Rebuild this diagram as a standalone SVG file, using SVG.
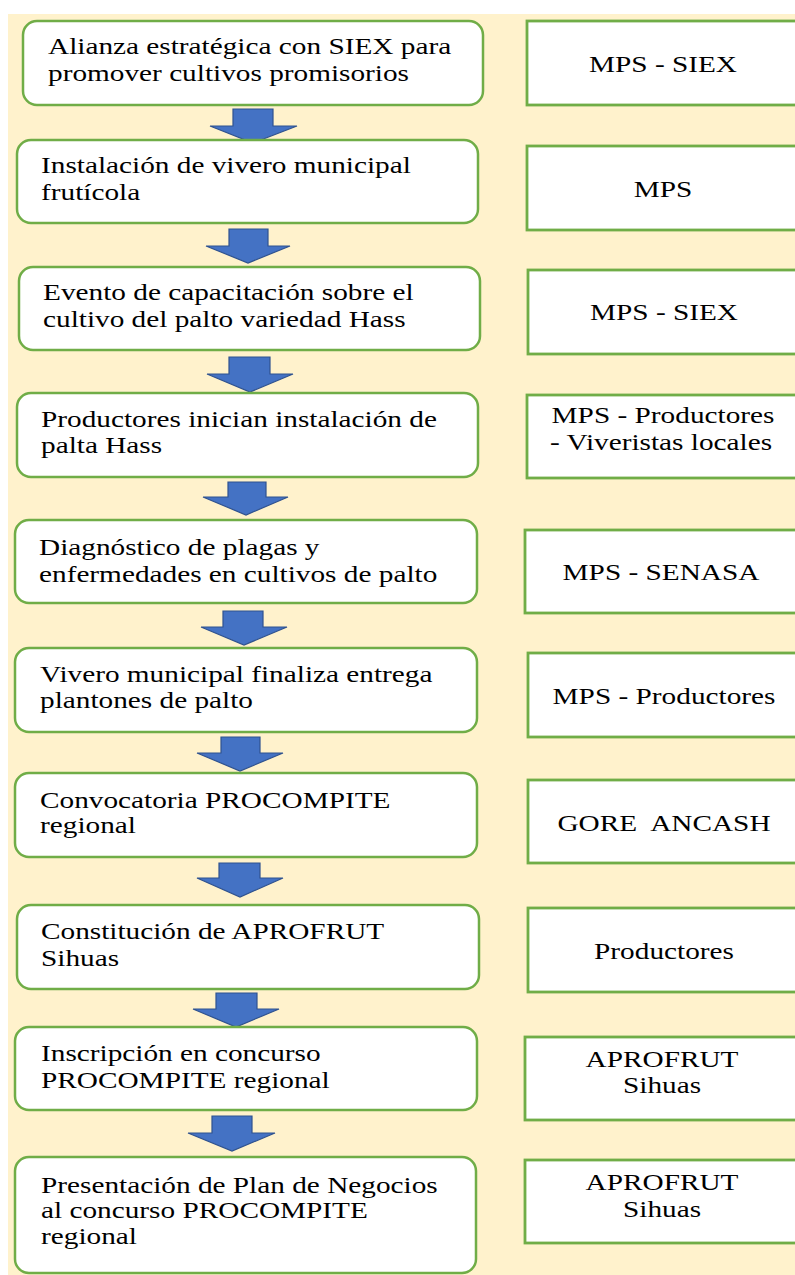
<svg xmlns="http://www.w3.org/2000/svg" width="795" height="1275" viewBox="0 0 795 1275">
<defs>
<style>
.bg{fill:#FFF2CC;}
.step{fill:#FFFFFF;stroke:#70AD47;stroke-width:2.5;}
.actor{fill:#FFFFFF;stroke:#70AD47;stroke-width:2.8;}
.arrow{fill:#4472C4;stroke:#2F528F;stroke-width:1.2;stroke-linejoin:miter;}
.t{font-family:"Liberation Serif","Times New Roman",serif;font-size:24px;fill:#000000;}
.c{text-anchor:middle;}
</style>
</defs>
<rect class="bg" x="8" y="14" width="787" height="1261"/>

<g id="connectors">
<polygon class="arrow" points="233,109 273,109 273,126 297,126 253,143 210,126 233,126"/>
<polygon class="arrow" points="229,229 268,229 268,246 290,246 248,263 206,246 229,246"/>
<polygon class="arrow" points="229,357 270,357 270,374 293,374 250,392 207,374 229,374"/>
<polygon class="arrow" points="228,482 266,482 266,497 288,497 246,515 203,497 228,497"/>
<polygon class="arrow" points="223,611 263,611 263,627 287,627 244,645 201,627 223,627"/>
<polygon class="arrow" points="221,737 260,737 260,753 283,753 240,771 197,753 221,753"/>
<polygon class="arrow" points="219,863 260,863 260,878 283,878 240,897 197,878 219,878"/>
<polygon class="arrow" points="216,993 257,993 257,1009 279,1009 236,1027 193,1009 216,1009"/>
<polygon class="arrow" points="212,1116 252,1116 252,1133 275,1133 232,1151 188,1133 212,1133"/>
</g>

<g id="step1">
<rect class="step" x="23" y="21" width="460" height="84" rx="14"/>
<text class="t" transform="translate(48 54) scale(1.22 1)">Alianza estratégica con SIEX para</text>
<text class="t" transform="translate(48 81) scale(1.22 1)">promover cultivos promisorios</text>
</g>
<g id="actor1">
<rect class="actor" x="527" y="21" width="290" height="84"/>
<text class="t c" transform="translate(663 72) scale(1.22 1)">MPS - SIEX</text>
</g>

<g id="step2">
<rect class="step" x="17" y="140" width="461" height="83" rx="14"/>
<text class="t" transform="translate(41 173) scale(1.22 1)">Instalación de vivero municipal</text>
<text class="t" transform="translate(41 200) scale(1.22 1)">frutícola</text>
</g>
<g id="actor2">
<rect class="actor" x="527" y="146" width="290" height="84"/>
<text class="t c" transform="translate(663 197) scale(1.22 1)">MPS</text>
</g>

<g id="step3">
<rect class="step" x="19" y="267" width="461" height="83" rx="14"/>
<text class="t" transform="translate(43 300) scale(1.22 1)">Evento de capacitación sobre el</text>
<text class="t" transform="translate(43 327) scale(1.22 1)">cultivo del palto variedad Hass</text>
</g>
<g id="actor3">
<rect class="actor" x="528" y="270" width="290" height="84"/>
<text class="t c" transform="translate(664 320) scale(1.22 1)">MPS - SIEX</text>
</g>

<g id="step4">
<rect class="step" x="17" y="393" width="461" height="84" rx="14"/>
<text class="t" transform="translate(41 427) scale(1.22 1)">Productores inician instalación de</text>
<text class="t" transform="translate(41 453) scale(1.22 1)">palta Hass</text>
</g>
<g id="actor4">
<rect class="actor" x="527" y="395" width="290" height="83"/>
<text class="t c" transform="translate(663 423) scale(1.22 1)">MPS - Productores</text>
<text class="t c" transform="translate(661 450) scale(1.22 1)">- Viveristas locales</text>
</g>

<g id="step5">
<rect class="step" x="15" y="520" width="462" height="83" rx="14"/>
<text class="t" transform="translate(39 555) scale(1.22 1)">Diagnóstico de plagas y</text>
<text class="t" transform="translate(39 582) scale(1.22 1)">enfermedades en cultivos de palto</text>
</g>
<g id="actor5">
<rect class="actor" x="525" y="530" width="292" height="83"/>
<text class="t c" transform="translate(661 580) scale(1.22 1)">MPS - SENASA</text>
</g>

<g id="step6">
<rect class="step" x="15" y="648" width="462" height="84" rx="14"/>
<text class="t" transform="translate(40 682) scale(1.22 1)">Vivero municipal finaliza entrega</text>
<text class="t" transform="translate(40 708) scale(1.22 1)">plantones de palto</text>
</g>
<g id="actor6">
<rect class="actor" x="528" y="653" width="290" height="84"/>
<text class="t c" transform="translate(664 704) scale(1.22 1)">MPS - Productores</text>
</g>

<g id="step7">
<rect class="step" x="15" y="773" width="462" height="84" rx="14"/>
<text class="t" transform="translate(40 808) scale(1.22 1)">Convocatoria PROCOMPITE</text>
<text class="t" transform="translate(40 833) scale(1.22 1)">regional</text>
</g>
<g id="actor7">
<rect class="actor" x="528" y="780" width="290" height="83"/>
<text class="t c" transform="translate(664 831) scale(1.22 1)" xml:space="preserve">GORE  ANCASH</text>
</g>

<g id="step8">
<rect class="step" x="17" y="905" width="462" height="84" rx="14"/>
<text class="t" transform="translate(41 939) scale(1.22 1)">Constitución de APROFRUT</text>
<text class="t" transform="translate(41 966) scale(1.22 1)">Sihuas</text>
</g>
<g id="actor8">
<rect class="actor" x="528" y="908" width="290" height="84"/>
<text class="t c" transform="translate(664 959) scale(1.22 1)">Productores</text>
</g>

<g id="step9">
<rect class="step" x="15" y="1027" width="462" height="83" rx="14"/>
<text class="t" transform="translate(41 1061) scale(1.22 1)">Inscripción en concurso</text>
<text class="t" transform="translate(41 1088) scale(1.22 1)">PROCOMPITE regional</text>
</g>
<g id="actor9">
<rect class="actor" x="525" y="1037" width="292" height="83"/>
<text class="t c" transform="translate(662 1067) scale(1.22 1)">APROFRUT</text>
<text class="t c" transform="translate(662 1093) scale(1.22 1)">Sihuas</text>
</g>

<g id="step10">
<rect class="step" x="15" y="1157" width="461" height="116" rx="14"/>
<text class="t" transform="translate(41 1193) scale(1.22 1)">Presentación de Plan de Negocios</text>
<text class="t" transform="translate(41 1218) scale(1.22 1)">al concurso PROCOMPITE</text>
<text class="t" transform="translate(41 1244) scale(1.22 1)">regional</text>
</g>
<g id="actor10">
<rect class="actor" x="525" y="1160" width="292" height="83"/>
<text class="t c" transform="translate(662 1190) scale(1.22 1)">APROFRUT</text>
<text class="t c" transform="translate(662 1217) scale(1.22 1)">Sihuas</text>
</g>
</svg>
